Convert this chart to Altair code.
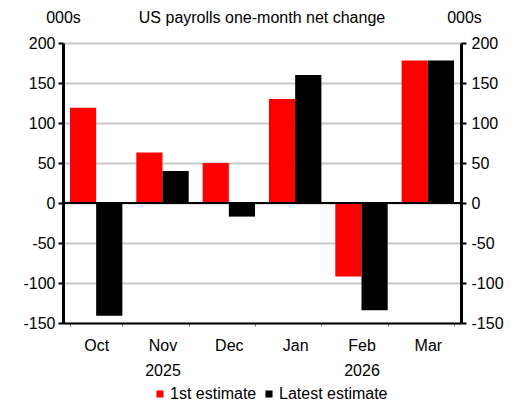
import altair as alt
import pandas as pd

months = ["Oct", "Nov", "Dec", "Jan", "Feb", "Mar"]
year_labels = {"Nov": "2025", "Feb": "2026"}
first_estimate = [119, 63, 50, 130, -92, 178]
latest_estimate = [-141, 40, -17, 160, -134, 178]
series_names = ["1st estimate", "Latest estimate"]
series_colors = ["#ff0000", "#000000"]
y_ticks = [-150, -100, -50, 0, 50, 100, 150, 200]

rows = []
for m, a, b in zip(months, first_estimate, latest_estimate):
    rows.append({"month": m, "series": series_names[0], "value": a})
    rows.append({"month": m, "series": series_names[1], "value": b})
df = pd.DataFrame(rows)

FONT = "Liberation Sans"
label_expr = "datum.value"
for m, yr in year_labels.items():
    label_expr = f"datum.value == '{m}' ? ['{m}', '{yr}'] : ({label_expr})"

yscale = alt.Scale(domain=[-150, 200], nice=False, zero=False)

common_y = dict(values=y_ticks, labelExpr="'' + datum.value",
                domainColor="black", domainWidth=3,
                tickColor="black", tickWidth=2, tickSize=5,
                labelFont=FONT, labelFontSize=16, labelColor="black",
                title="000s", titleAngle=0, titleY=-21,
                titleAlign="center", titleBaseline="alphabetic",
                titleFont=FONT, titleFontSize=16, titleFontWeight="normal",
                titleColor="black")

bars = alt.Chart(df).mark_bar().encode(
    x=alt.X("month:N", sort=months,
            scale=alt.Scale(paddingInner=0.21, paddingOuter=0.105),
            axis=alt.Axis(title=None, labelAngle=0, labelExpr=label_expr,
                          labelFont=FONT, labelFontSize=16, labelColor="black",
                          labelLineHeight=25, labelPadding=11,
                          domainColor="black", domainWidth=2,
                          tickColor="#777777", tickWidth=1, tickSize=3,
                          tickBand="extent")),
    xOffset=alt.XOffset("series:N", sort=series_names,
                        scale=alt.Scale(paddingInner=0, paddingOuter=0)),
    y=alt.Y("value:Q", scale=yscale,
            axis=alt.Axis(orient="left", grid=True,
                          gridColor="#c8c8c8", gridWidth=2,
                          labelPadding=3, titleX=0, **common_y)),
    color=alt.Color("series:N", sort=series_names,
                    scale=alt.Scale(domain=series_names, range=series_colors),
                    legend=alt.Legend(title=None, orient="none", direction="horizontal",
                                      legendX=89, legendY=343,
                                      symbolType="square", symbolSize=50,
                                      symbolStrokeWidth=0,
                                      labelFont=FONT, labelFontSize=16,
                                      labelColor="black", labelOffset=2,
                                      columnPadding=4)),
)

zero = alt.Chart(df).mark_rule(color="black", strokeWidth=2).encode(
    y=alt.Y(datum=0, type="quantitative", scale=yscale,
            axis=alt.Axis(orient="right", grid=False,
                          labelPadding=5, titleX=3, **common_y)),
)

chart = alt.layer(bars, zero).resolve_axis(y="independent").properties(
    width=398, height=280,
    autosize=alt.AutoSizeParams(type="none"),
    padding={"left": 55, "top": 35, "right": 53, "bottom": 79},
    title=alt.TitleParams("US payrolls one-month net change", font=FONT, fontSize=16,
                          fontWeight="normal", color="black", anchor="middle",
                          frame="group", baseline="alphabetic", offset=0, dy=30),
).configure_view(stroke=None)

chart.save("out.html", embed_options={"renderer": "svg", "actions": False})
